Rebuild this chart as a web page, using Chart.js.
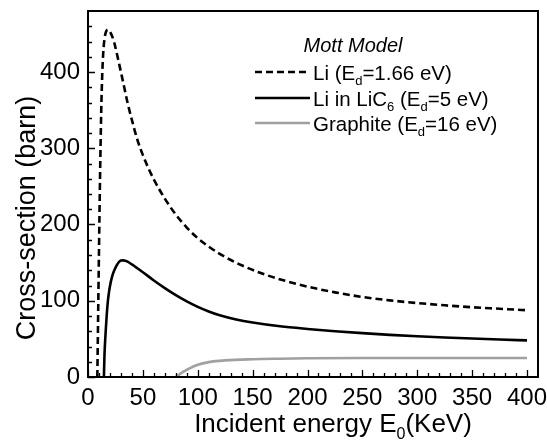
<!DOCTYPE html>
<html>
<head>
<meta charset="utf-8">
<script src="https://cdn.jsdelivr.net/npm/chart.js@4/dist/chart.umd.min.js"></script>
<style>
  html, body { margin: 0; padding: 0; background: #fff; }
  #wrap { width: 547px; height: 442px; }
</style>
</head>
<body>
<div id="wrap"><canvas id="c" width="547" height="442"></canvas></div>
<script>
// ---- data ----
const liX  = [8.5, 9, 10, 11, 12, 13, 14, 15, 16, 17, 18, 19, 20, 22, 24, 26, 28, 30, 33, 36, 40, 45, 50, 55, 60, 70, 80, 90, 100, 110, 120, 140, 160, 180, 200, 225, 250, 275, 300, 325, 350, 375, 400];
const liY  = [0, 55, 165, 265, 345, 398, 428, 443, 451, 454.5, 455.5, 455, 453, 447, 438, 426, 413, 400, 380, 360, 337, 311, 291, 274, 259, 234, 213, 196, 182, 171, 161.5, 146.5, 135, 126, 118.5, 111, 105, 100.5, 97, 94, 91.5, 89.5, 87.5];

const licX = [14.5, 15, 16, 17, 18, 19, 20, 22, 24, 26, 28, 30, 32, 34, 36, 40, 45, 50, 60, 70, 80, 90, 100, 110, 120, 135, 150, 175, 200, 225, 250, 275, 300, 325, 350, 375, 400];
const licY = [0, 28, 57, 80, 98, 110, 119, 132, 140, 146, 150.5, 152.7, 153, 152.4, 151.2, 147.6, 142.6, 137.4, 126.6, 116.6, 107.4, 99.2, 92, 86, 81, 75.5, 71.5, 66.5, 63, 60, 57.5, 55.3, 53.5, 51.9, 50.5, 49.2, 48];

const grX  = [80, 83, 87, 92, 100, 110, 125, 150, 175, 200, 250, 300, 350, 400];
const grY  = [0, 3, 7, 11, 16, 19.5, 21.8, 23.3, 24, 24.5, 25, 25, 25, 25];

const seriesNames = ['Li', 'Li in LiC', 'Graphite'];
const xTickValues = [0, 50, 100, 150, 200, 250, 300, 350, 400];
const yTickValues = [0, 100, 200, 300, 400];

const toPts = (xs, ys) => xs.map((x, i) => ({ x: x, y: ys[i] }));

const FONT = '"Liberation Sans", Arial, Helvetica, sans-serif';

const framePlugin = {
  id: 'frame',
  afterDraw(chart) {
    const ctx = chart.ctx;
    const a = chart.chartArea;
    const xs = chart.scales.x, ys = chart.scales.y;
    ctx.save();
    ctx.strokeStyle = '#000';
    ctx.lineWidth = 2;
    ctx.strokeRect(a.left, a.top, a.right - a.left, a.bottom - a.top);
    // inward ticks
    ctx.lineWidth = 1.3;
    ctx.beginPath();
    for (let v = 0; v <= 400; v += 10) {
      const px = Math.round(xs.getPixelForValue(v)) + 0.5;
      const len = (v % 50 === 0) ? 7 : 4;
      ctx.moveTo(px, a.bottom);
      ctx.lineTo(px, a.bottom - len);
    }
    for (let v = 0; v <= 460; v += 20) {
      const py = Math.round(ys.getPixelForValue(v)) + 0.5;
      const len = (v % 100 === 0) ? 7 : 4;
      ctx.moveTo(a.left, py);
      ctx.lineTo(a.left + len, py);
    }
    ctx.stroke();

    // axis titles
    ctx.fillStyle = '#000';
    ctx.textBaseline = 'alphabetic';
    // y title
    ctx.save();
    ctx.translate(35, 218);
    ctx.rotate(-Math.PI / 2);
    ctx.font = '27px ' + FONT;
    ctx.textAlign = 'center';
    ctx.fillText('Cross-section (barn)', 0, 0);
    ctx.restore();

    // x title with subscript
    const big = '26px ' + FONT, small = '16px ' + FONT;
    const parts = [['Incident energy E', big, 0], ['0', small, 7], ['(KeV)', big, 0]];
    let total = 0;
    parts.forEach(p => { ctx.font = p[1]; total += ctx.measureText(p[0]).width; });
    let x = 333 - total / 2;
    const base = 432;
    ctx.textAlign = 'left';
    parts.forEach(p => { ctx.font = p[1]; ctx.fillText(p[0], x, base + p[2]); x += ctx.measureText(p[0]).width; });

    // legend
    ctx.font = 'italic 20px ' + FONT;
    ctx.textAlign = 'center';
    ctx.fillText('Mott Model', 353, 52);
    const rows = [
      { y: 72, dash: [7, 4], color: '#000', parts: [['Li (E', 0], ['d', 1], ['=1.66 eV)', 0]] },
      { y: 98, dash: [], color: '#000', parts: [['Li in LiC', 0], ['6', 1], [' (E', 0], ['d', 1], ['=5 eV)', 0]] },
      { y: 123, dash: [], color: '#a0a0a0', parts: [['Graphite (E', 0], ['d', 1], ['=16 eV)', 0]] }
    ];
    rows.forEach(r => {
      ctx.save();
      ctx.strokeStyle = r.color;
      ctx.lineWidth = 2.6;
      ctx.setLineDash(r.dash);
      ctx.beginPath();
      ctx.moveTo(255, r.y);
      ctx.lineTo(310, r.y);
      ctx.stroke();
      ctx.restore();
      let tx = 313;
      ctx.textAlign = 'left';
      r.parts.forEach(p => {
        ctx.font = p[1] ? '13px ' + FONT : '20.5px ' + FONT;
        ctx.fillText(p[0], tx, r.y + 7.5 + (p[1] ? 5 : 0));
        tx += ctx.measureText(p[0]).width;
      });
    });
    ctx.restore();
  }
};

new Chart(document.getElementById('c'), {
  type: 'line',
  data: {
    datasets: [
      { label: seriesNames[0], data: toPts(liX, liY), borderColor: '#000', borderWidth: 2.6, borderDash: [7, 4], pointRadius: 0, fill: false, cubicInterpolationMode: 'monotone' },
      { label: seriesNames[1], data: toPts(licX, licY), borderColor: '#000', borderWidth: 2.6, pointRadius: 0, fill: false, cubicInterpolationMode: 'monotone' },
      { label: seriesNames[2], data: toPts(grX, grY), borderColor: '#a0a0a0', borderWidth: 2.6, pointRadius: 0, fill: false, cubicInterpolationMode: 'monotone' }
    ]
  },
  options: {
    responsive: false,
    animation: false,
    devicePixelRatio: 1,
    layout: { padding: { top: 11, right: 9, left: 0, bottom: 0 } },
    plugins: { legend: { display: false }, tooltip: { enabled: false } },
    scales: {
      x: {
        type: 'linear', min: 0, max: 410,
        grid: { display: false, drawTicks: false },
        border: { display: false },
        afterBuildTicks(s) { s.ticks = xTickValues.map(v => ({ value: v })); },
        afterFit(s) { s.height = 65; s.paddingLeft = 0; s.paddingRight = 0; },
        ticks: { color: '#000', padding: 7, maxRotation: 0, autoSkip: false, font: { size: 24, family: FONT } }
      },
      y: {
        type: 'linear', min: 0, max: 480,
        grid: { display: false, drawTicks: false },
        border: { display: false },
        afterBuildTicks(s) { s.ticks = yTickValues.map(v => ({ value: v })); },
        afterFit(s) { s.width = 88; s.paddingTop = 0; s.paddingBottom = 0; },
        ticks: { color: '#000', padding: 8, autoSkip: false, font: { size: 24, family: FONT } }
      }
    }
  },
  plugins: [framePlugin]
});
</script>
</body>
</html>
